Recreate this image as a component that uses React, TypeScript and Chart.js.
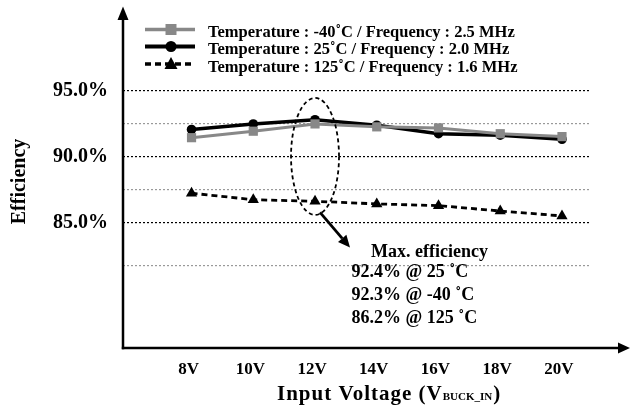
import React, { useEffect, useRef } from 'react';
import { Chart, registerables } from 'chart.js';

Chart.register(...registerables);

// ---------- data ----------
const voltages = [8, 10, 12, 14, 16, 18, 20];
const effMinus40 = [91.42, 91.91, 92.46, 92.24, 92.16, 91.72, 91.5];
const eff25 = [92.04, 92.46, 92.78, 92.36, 91.72, 91.61, 91.3];
const eff125 = [87.22, 86.73, 86.61, 86.41, 86.28, 85.87, 85.5];
const seriesLabels = [
  'Temperature : -40˚C / Frequency : 2.5 MHz',
  'Temperature : 25˚C / Frequency : 2.0 MHz',
  'Temperature : 125˚C / Frequency : 1.6 MHz',
];
const xTickValues = [8, 10, 12, 14, 16, 18, 20];
const yTickValues = [81.75, 85, 87.5, 90, 92.5, 95];
const yLabeledTicks = [85, 90, 95];
const yTitle = 'Efficiency';
const xTitleMain = 'Input Voltage (V';
const xTitleSub = 'BUCK_IN';
const xTitleEnd = ')';
const annotationTitle = 'Max. efficiency';
const annotationLines = ['92.4% @ 25 ˚C', '92.3% @ -40 ˚C', '86.2% @ 125 ˚C'];

const Y_MIN = 75.51;
const Y_MAX = 100.7;
const SERIF = '"Liberation Serif", "Times New Roman", Times, serif';

const GRAY = '#888888';

const decorPlugin = {
  id: 'decor',
  afterDatasetsDraw(chart: any) {
    const { ctx, scales } = chart;
    const cx = scales.x.getPixelForValue(12);
    const cy = scales.y.getPixelForValue(90.0);
    ctx.save();
    ctx.setLineDash([4, 3]);
    ctx.lineWidth = 1.8;
    ctx.strokeStyle = '#000';
    ctx.beginPath();
    ctx.ellipse(cx, cy, 24, 58.5, 0, 0, Math.PI * 2);
    ctx.stroke();
    ctx.restore();
  },
  afterDraw(chart: any) {
    const { ctx, chartArea, scales } = chart;
    const left = chartArea.left;
    const bottom = chartArea.bottom;
    ctx.save();
    ctx.setLineDash([]);
    ctx.strokeStyle = '#000';
    ctx.fillStyle = '#000';
    ctx.lineWidth = 2.5;
    // y axis
    ctx.beginPath();
    ctx.moveTo(left, bottom + 1.2);
    ctx.lineTo(left, 18);
    ctx.stroke();
    ctx.beginPath();
    ctx.moveTo(left, 6.5);
    ctx.lineTo(left - 5.5, 20);
    ctx.lineTo(left + 5.5, 20);
    ctx.closePath();
    ctx.fill();
    // x axis
    ctx.beginPath();
    ctx.moveTo(left - 1.2, bottom);
    ctx.lineTo(620, bottom);
    ctx.stroke();
    ctx.beginPath();
    ctx.moveTo(630, bottom);
    ctx.lineTo(618, bottom - 5.5);
    ctx.lineTo(618, bottom + 5.5);
    ctx.closePath();
    ctx.fill();

    // annotation arrow
    const cx = scales.x.getPixelForValue(12);
    const cy = scales.y.getPixelForValue(90.0);
    const sx = cx + 5, sy = cy + 56;
    const tx = cx + 35, ty = cy + 91;
    const ang = Math.atan2(ty - sy, tx - sx);
    const hl = 12, hw = 5.5;
    const bx = tx - Math.cos(ang) * hl, by = ty - Math.sin(ang) * hl;
    ctx.lineWidth = 2.8;
    ctx.beginPath();
    ctx.moveTo(sx, sy);
    ctx.lineTo(bx, by);
    ctx.stroke();
    ctx.beginPath();
    ctx.moveTo(tx, ty);
    ctx.lineTo(bx - Math.sin(ang) * hw, by + Math.cos(ang) * hw);
    ctx.lineTo(bx + Math.sin(ang) * hw, by - Math.cos(ang) * hw);
    ctx.closePath();
    ctx.fill();

    // annotation text
    ctx.font = `bold 18px ${SERIF}`;
    ctx.textAlign = 'left';
    ctx.textBaseline = 'alphabetic';
    ctx.fillText(annotationTitle, 371, 256.5);
    const rowsY = [277.3, 300.3, 323.3];
    annotationLines.forEach((t, i) => ctx.fillText(t, 351.5, rowsY[i]));

    // x axis title with subscript
    ctx.font = `bold 21px ${SERIF}`;
    (ctx as any).letterSpacing = '1px';
    let x = 277;
    const base = 400;
    ctx.fillText(xTitleMain, x, base);
    x += ctx.measureText(xTitleMain).width;
    ctx.font = `bold 11px ${SERIF}`;
    (ctx as any).letterSpacing = '0px';
    ctx.fillText(xTitleSub, x, base);
    x += ctx.measureText(xTitleSub).width + 1;
    ctx.font = `bold 21px ${SERIF}`;
    ctx.fillText(xTitleEnd, x, base);

    // legend
    const markerY = [29.5, 46.5, 64];
    const textY = [36.5, 54, 71.5];
    const lx0 = 145, lx1 = 195, mx = 171;
    chart.data.datasets.forEach((ds: any, i: number) => {
      const y = markerY[i];
      ctx.save();
      ctx.strokeStyle = ds.borderColor;
      ctx.fillStyle = ds.pointBackgroundColor;
      ctx.lineWidth = ds.borderWidth + 0.5;
      ctx.setLineDash(ds.borderDash || []);
      ctx.beginPath();
      ctx.moveTo(lx0, y);
      ctx.lineTo(lx1, y);
      ctx.stroke();
      ctx.setLineDash([]);
      ctx.beginPath();
      if (ds.pointStyle === 'rect') {
        ctx.rect(mx - 5.5, y - 5.5, 11, 11);
      } else if (ds.pointStyle === 'circle') {
        ctx.arc(mx, y, 5.5, 0, Math.PI * 2);
      } else {
        ctx.moveTo(mx, y - 7);
        ctx.lineTo(mx + 6.5, y + 5);
        ctx.lineTo(mx - 6.5, y + 5);
        ctx.closePath();
      }
      ctx.fill();
      ctx.restore();
      ctx.fillStyle = '#000';
      ctx.font = `bold 16.5px ${SERIF}`;
      ctx.textAlign = 'left';
      ctx.textBaseline = 'alphabetic';
      ctx.fillText(ds.label, 208, textY[i]);
    });
    ctx.restore();
  },
};

export default function App() {
  const ref = useRef<HTMLCanvasElement>(null);

  useEffect(() => {
    document.body.style.margin = '0';
    const canvas = ref.current;
    if (!canvas) return;
    const toPts = (arr: number[]) => voltages.map((v, i) => ({ x: v, y: arr[i] }));
    const chart = new Chart(canvas, {
      type: 'line',
      data: {
        datasets: [
          {
            label: seriesLabels[0],
            data: toPts(effMinus40),
            borderColor: GRAY,
            backgroundColor: GRAY,
            pointBackgroundColor: GRAY,
            pointBorderColor: GRAY,
            borderWidth: 3,
            pointStyle: 'rect',
            pointRadius: 6.5,
            pointBorderWidth: 0,
            tension: 0,
          },
          {
            label: seriesLabels[1],
            data: toPts(eff25),
            borderColor: '#000',
            backgroundColor: '#000',
            pointBackgroundColor: '#000',
            pointBorderColor: '#000',
            borderWidth: 3.5,
            pointStyle: 'circle',
            pointRadius: 4.8,
            pointBorderWidth: 0,
            tension: 0,
          },
          {
            label: seriesLabels[2],
            data: toPts(eff125),
            borderColor: '#000',
            backgroundColor: '#000',
            pointBackgroundColor: '#000',
            pointBorderColor: '#000',
            borderWidth: 2.8,
            borderDash: [6, 4],
            pointStyle: 'triangle',
            pointRadius: 6.5,
            pointBorderWidth: 0,
            tension: 0,
          },
        ],
      } as any,
      options: {
        animation: false,
        responsive: false,
        devicePixelRatio: 1,
        events: [],
        layout: { padding: { top: 8, right: 39, left: 0, bottom: 0 } },
        plugins: {
          legend: { display: false },
          tooltip: { enabled: false },
          title: { display: false },
        },
        scales: {
          x: {
            type: 'linear',
            min: 5.78,
            max: 20.94,
            afterBuildTicks: (s: any) => {
              s.ticks = xTickValues.map((v) => ({ value: v }));
            },
            afterFit: (s: any) => {
              s.height = 58;
            },
            grid: { display: false, drawTicks: false },
            border: { display: false },
            ticks: {
              autoSkip: false,
              maxRotation: 0,
              padding: 11,
              labelOffset: -3,
              color: '#000',
              font: { family: SERIF, size: 17, weight: 'bold' },
              callback: (v: any) => `${v}V`,
            },
          },
          y: {
            type: 'linear',
            min: Y_MIN,
            max: Y_MAX,
            afterBuildTicks: (s: any) => {
              s.ticks = [...yTickValues, Y_MAX].map((v) => ({ value: v }));
            },
            afterFit: (s: any) => {
              s.width = 123;
            },
            grid: {
              drawTicks: false,
              lineWidth: 1.2,
              color: (c: any) => {
                const v = c.tick && c.tick.value;
                if (yLabeledTicks.includes(v)) return '#000';
                if (v >= Y_MAX) return 'rgba(0,0,0,0)';
                return '#999999';
              },
            },
            border: { display: false, dash: [2, 2] },
            ticks: {
              padding: 15,
              color: '#000',
              font: { family: SERIF, size: 20, weight: 'bold' },
              callback: (v: any) => (yLabeledTicks.includes(v) ? `${Number(v).toFixed(1)}%` : []),
            },
            title: {
              display: true,
              text: yTitle,
              color: '#000',
              font: { family: SERIF, size: 20, weight: 'bold' },
              padding: { top: 8, bottom: 0 },
            },
          },
        },
      } as any,
      plugins: [decorPlugin],
    });
    return () => chart.destroy();
  }, []);

  return (
    <div style={{ width: 630, height: 406 }}>
      <canvas ref={ref} width={630} height={406} style={{ display: 'block' }} />
    </div>
  );
}
